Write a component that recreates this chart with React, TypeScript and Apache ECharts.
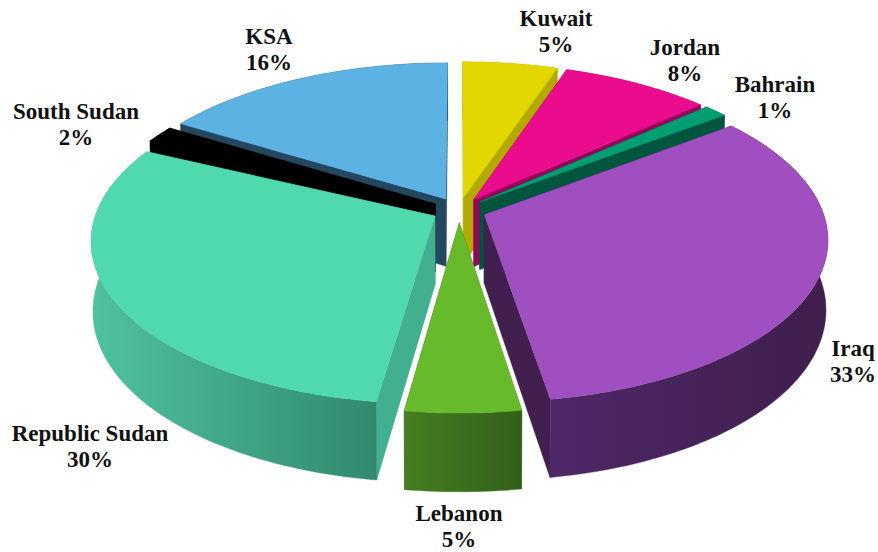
import React, { useEffect, useRef } from "react";
import * as echarts from "echarts";

const NAMES = ["Kuwait", "Jordan", "Bahrain", "Iraq", "Lebanon", "Republic Sudan", "South Sudan", "KSA"];
const VALUES = [5.2, 8.2, 1.3, 32.8, 4.7, 29.8, 1.7, 16.3];

// styling per slice
const TOP = ["#E3D700", "#EA0C8D", "#009E73", "#9F4FC0", "#67BA2A", "#50D8AE", "#000000", "#5BB2E3"];
const CUT = ["#B3A900", "#95055A", "#00553F", "#41204F", "#3B6E1C", "#42B090", "#000000", "#23475E"];
const WALL = [
  ["#B3A900", "#B3A900"],
  ["#95055A", "#95055A"],
  ["#00553F", "#00553F"],
  ["#4E2868", "#3E1F4C"],
  ["#457F20", "#32601A"],
  ["#4FC29E", "#318A70"],
  ["#000000", "#000000"],
  ["#23475E", "#23475E"],
];
const PAINT_RANK = [1, 2, 3, 6, 7, 5, 4, 0];
const LABEL_POS = [
  [556, 31], [685, 60], [775, 97], [853, 361], [459, 526], [90, 446], [76, 124], [269, 49],
];

// projection of the ground plane
const GX = 459, GY = 210, RX = 338, RY = 158.7, K = 0.1444, EXPLODE = 0.08;
const SHRINK = 0.995, DEPTH0 = 68, DEPTH1 = 10;

function top(X: number, Y: number): number[] {
  const w = 1 - K * Y;
  return [GX + (RX * X) / w, GY + (RY * Y) / w];
}
function bottom(X: number, Y: number): number[] {
  const w = 1 - K * Y;
  return [GX + (SHRINK * RX * X) / w, GY + (RY * Y) / w + DEPTH0 + DEPTH1 * Y];
}

const TOTAL = VALUES.reduce((a, b) => a + b, 0);

function renderItem(params: any, api: any) {
  const i = params.dataIndex;
  const before = VALUES.slice(0, i).reduce((a, b) => a + b, 0);
  const a0 = (before / TOTAL) * 2 * Math.PI;
  const a1 = ((before + api.value(0)) / TOTAL) * 2 * Math.PI;
  const mid = (a0 + a1) / 2;
  const ox = EXPLODE * Math.sin(mid);
  const oy = -EXPLODE * Math.cos(mid);
  const steps = Math.max(4, Math.ceil(((a1 - a0) * 180) / Math.PI));
  const ground: number[][] = [];
  for (let s = 0; s <= steps; s++) {
    const a = a0 + ((a1 - a0) * s) / steps;
    ground.push([ox + Math.sin(a), oy - Math.cos(a)]);
  }
  const arcTop = ground.map((p) => top(p[0], p[1]));
  const arcBot = ground.map((p) => bottom(p[0], p[1]));
  const apexT = top(ox, oy);
  const apexB = bottom(ox, oy);
  const z = PAINT_RANK[i] * 10;
  const poly = (points: number[][], fill: any, z2: number) => ({
    type: "polygon",
    z2,
    shape: { points },
    style: { fill, stroke: fill, lineWidth: 0.4 },
  });
  const label = `${NAMES[i]}\n${Math.round(VALUES[i])}%`;
  return {
    type: "group",
    children: [
      poly([apexT, arcTop[0], arcBot[0], apexB], CUT[i], z),
      poly([apexT, arcTop[steps], arcBot[steps], apexB], CUT[i], z),
      poly(
        [...arcTop, ...arcBot.slice().reverse()],
        new echarts.graphic.LinearGradient(0, 0, 1, 0, [
          { offset: 0, color: WALL[i][0] },
          { offset: 1, color: WALL[i][1] },
        ]),
        z + 1,
      ),
      poly([apexT, ...arcTop], TOP[i], z + 2),
      {
        type: "text",
        z2: 200,
        style: {
          text: label,
          x: LABEL_POS[i][0],
          y: LABEL_POS[i][1],
          align: "center",
          verticalAlign: "middle",
          fill: "#111111",
          font: 'bold 23px "Liberation Serif"',
          lineHeight: 26,
        },
      },
    ],
  };
}

export default function App() {
  const ref = useRef<HTMLDivElement>(null);
  useEffect(() => {
    const chart = echarts.init(ref.current!, undefined, { renderer: "svg" });
    chart.setOption({
      animation: false,
      backgroundColor: "#ffffff",
      series: [
        {
          type: "custom",
          coordinateSystem: "none",
          silent: true,
          renderItem,
          data: VALUES.map((value, i) => ({ name: NAMES[i], value: [value] })),
        },
      ],
    });
    return () => chart.dispose();
  }, []);
  return <div ref={ref} style={{ position: "fixed", left: 0, top: 0, width: 878, height: 552 }} />;
}
